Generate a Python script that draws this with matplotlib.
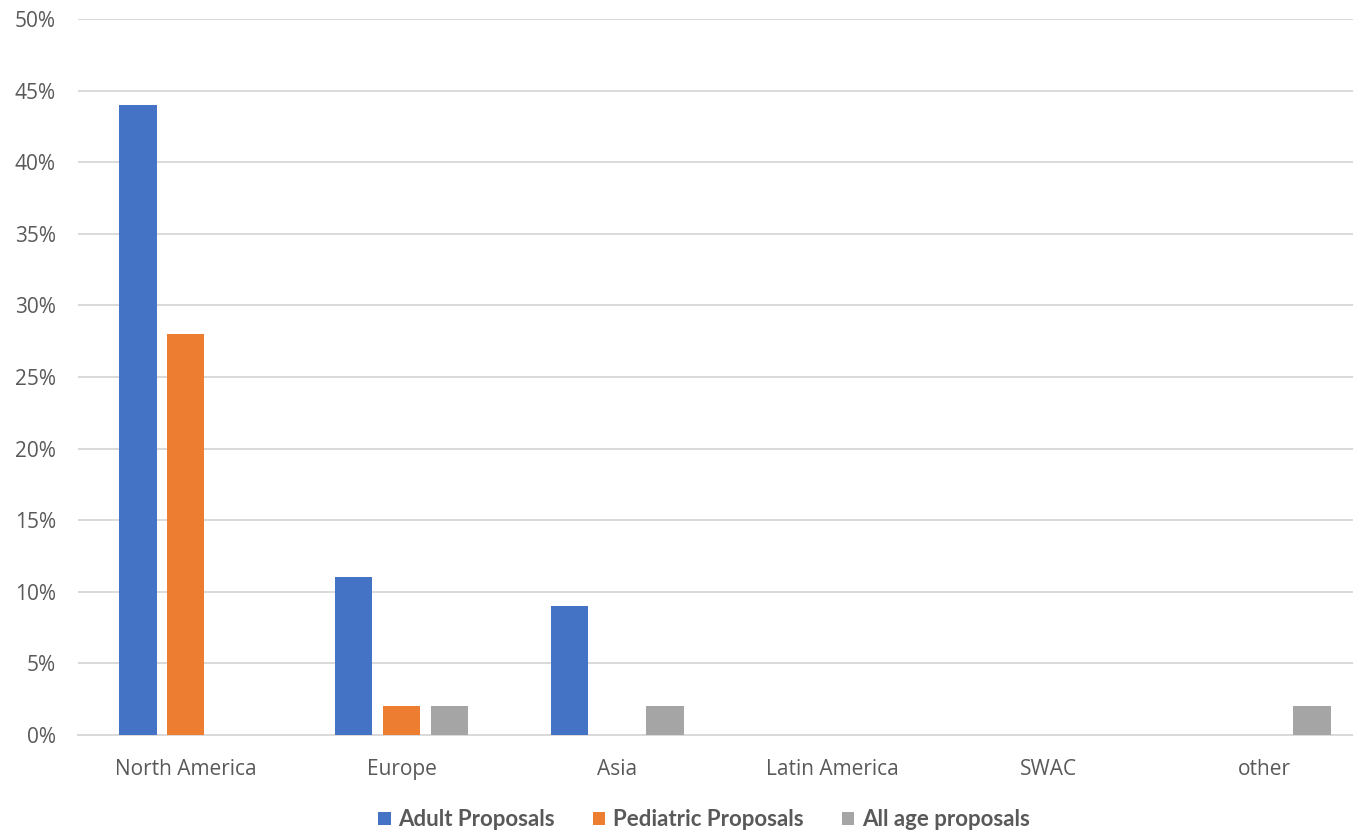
import matplotlib
matplotlib.use("Agg")
import matplotlib.pyplot as plt
import numpy as np
from matplotlib.ticker import PercentFormatter

categories = ["North America", "Europe", "Asia", "Latin America", "SWAC", "other"]
adult = [44, 11, 9, 0, 0, 0]
pediatric = [28, 2, 0, 0, 0, 0]
all_age = [0, 2, 2, 0, 0, 2]
series_names = ["Adult Proposals", "Pediatric Proposals", "All age proposals"]
colors = ["#4472C4", "#ED7D31", "#A5A5A5"]
yticks = [0, 5, 10, 15, 20, 25, 30, 35, 40, 45, 50]

W, H = 1353, 832
fig = plt.figure(figsize=(W / 100, H / 100), dpi=100)
ax = fig.add_axes([78 / W, 97 / H, 1294 / W, 716 / H])

x = np.arange(len(categories))
bw = 0.173
off = 0.222
for i, (vals, name, c) in enumerate(zip([adult, pediatric, all_age], series_names, colors)):
    ax.bar(x + (i - 1) * off, vals, width=bw, color=c, label=name, zorder=3)

ax.set_xlim(-0.5, len(categories) - 0.5)
ax.set_ylim(0, 50)
ax.set_yticks(yticks)
ax.yaxis.set_major_formatter(PercentFormatter(decimals=0))
ax.set_xticks(x)
ax.set_xticklabels(categories)
ax.grid(axis="y", color="#D9D9D9", linewidth=1.4, zorder=0)
for s in ["top", "right", "left"]:
    ax.spines[s].set_visible(False)
ax.spines["bottom"].set_color("#D9D9D9")
ax.spines["bottom"].set_linewidth(1.4)
ax.tick_params(axis="both", length=0, labelcolor="#595959", labelsize=15,
               labelfontfamily="Open Sans")
ax.tick_params(axis="x", pad=17)
ax.tick_params(axis="y", pad=16)

leg = fig.legend(loc="center", bbox_to_anchor=(704 / W, 1 - 820 / H), ncol=3,
                 frameon=False, handlelength=0.55, handleheight=0.55,
                 handletextpad=0.36, columnspacing=1.7,
                 prop={"family": ["Lato", "DejaVu Sans"],
                       "weight": "bold", "size": 16})
for t in leg.get_texts():
    t.set_color("#595959")

fig.savefig("out.png", dpi=100)
